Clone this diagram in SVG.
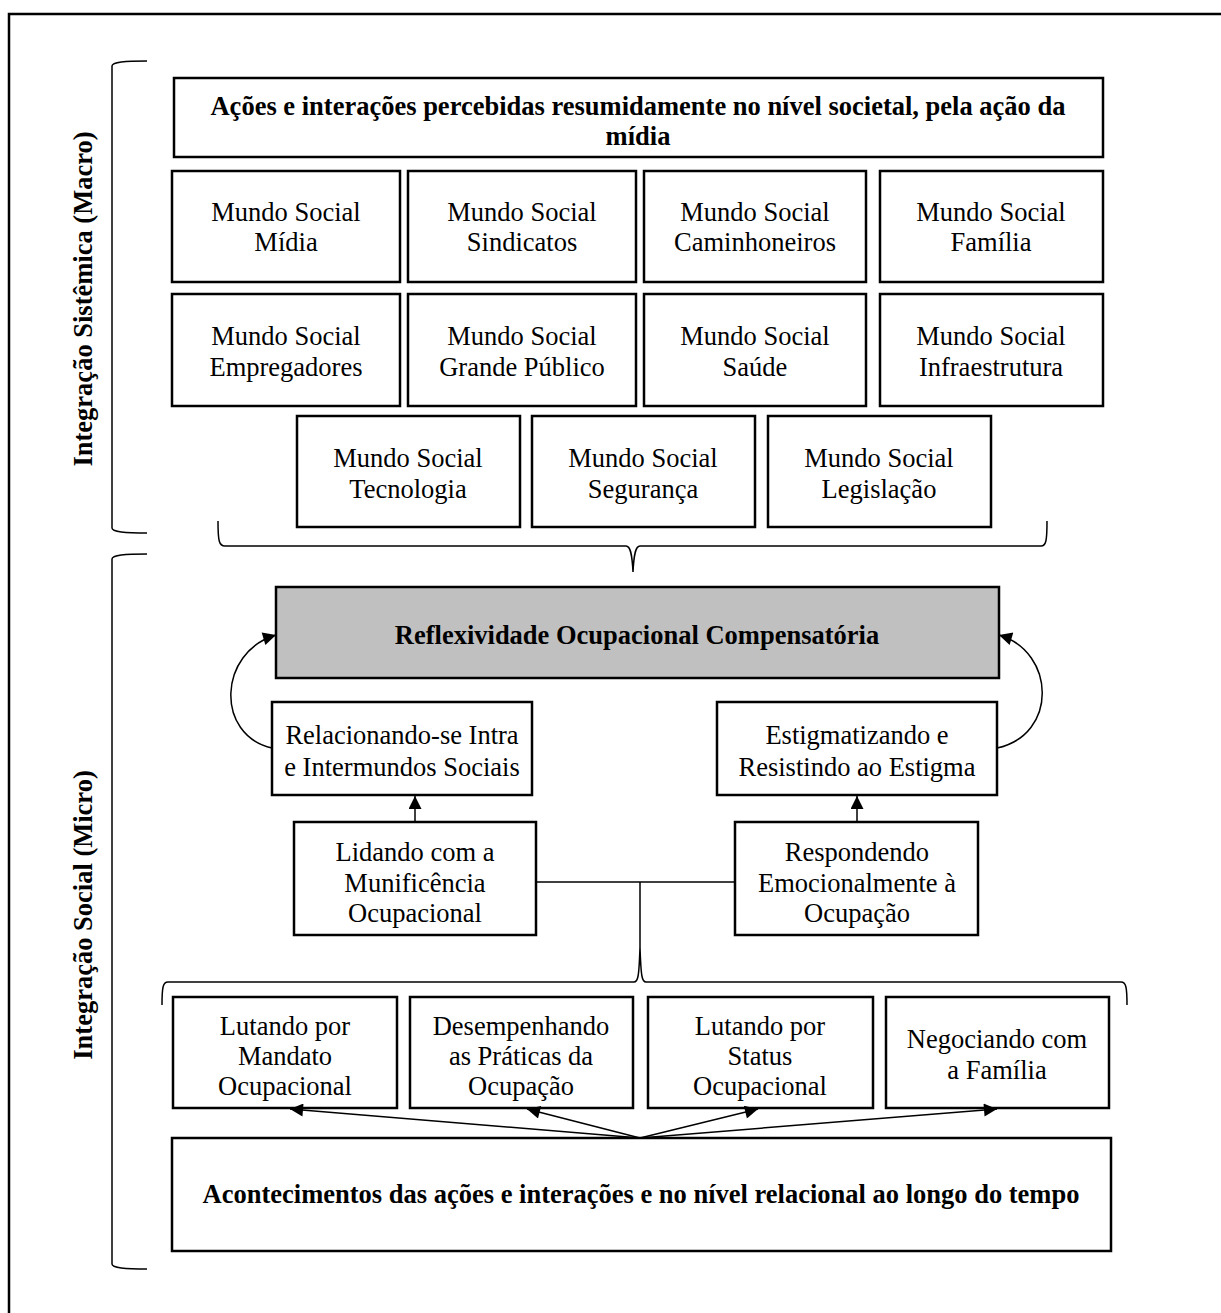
<svg xmlns="http://www.w3.org/2000/svg" width="1221" height="1313" viewBox="0 0 1221 1313">
<style>
.box{fill:#fff;stroke:#000;stroke-width:2.5}
.grey{fill:#c0c0c0;stroke:#000;stroke-width:2.5}
.t{font-family:"Liberation Serif","Times New Roman",serif;font-size:26.5px;text-anchor:middle;fill:#000}
.b{font-weight:bold}
.ln{fill:none;stroke:#000;stroke-width:1.5}
</style>
<defs>
<marker id="ah" viewBox="0 0 10 10" refX="10" refY="5" markerWidth="18" markerHeight="13" markerUnits="userSpaceOnUse" orient="auto">
<path d="M0,0 L10,5 L0,10 z" fill="#000"/>
</marker>
</defs>
<rect width="1221" height="1313" fill="#fff"/>
<rect x="9" y="14" width="1230" height="1320" fill="none" stroke="#000" stroke-width="2.5"/>

<g id="label-macro"><text class="t b" transform="translate(92,299) rotate(-90)">Integração Sistêmica (Macro)</text></g>
<g id="label-micro"><text class="t b" transform="translate(92,915) rotate(-90)">Integração Social (Micro)</text></g>

<g id="brackets">
<path class="ln" d="M147,61 C125,61 112,62 112,66 L112,528 C112,532 125,533 147,533"/>
<path class="ln" d="M147,554 C125,554 112,555 112,559 L112,1264 C112,1268 125,1269 147,1269"/>
<path class="ln" d="M218,521 C218,541 219,546 225,546 L626,546 C630,546 632,552 633,572 C634,552 636,546 640,546 L1041,546 C1046,546 1047,541 1047,521"/>
<path class="ln" d="M162,1005 C162,987 163,982 168,982 L634,982 C638,982 639,977 640,947 C641,977 642,982 646,982 L1121,982 C1126,982 1127,987 1127,1005"/>
</g>

<g id="top"><rect class="box" x="174" y="78" width="929" height="79"/>
<text class="t b" x="638" y="115">Ações e interações percebidas resumidamente no nível societal, pela ação da</text>
<text class="t b" x="638" y="145">mídia</text></g>

<g id="midia"><rect class="box" x="172" y="171" width="228" height="111"/><text class="t" x="286" y="221">Mundo Social</text><text class="t" x="286" y="251">Mídia</text></g>
<g id="sindicatos"><rect class="box" x="408" y="171" width="228" height="111"/><text class="t" x="522" y="221">Mundo Social</text><text class="t" x="522" y="251">Sindicatos</text></g>
<g id="caminhoneiros"><rect class="box" x="644" y="171" width="222" height="111"/><text class="t" x="755" y="221">Mundo Social</text><text class="t" x="755" y="251">Caminhoneiros</text></g>
<g id="familia"><rect class="box" x="880" y="171" width="223" height="111"/><text class="t" x="991" y="221">Mundo Social</text><text class="t" x="991" y="251">Família</text></g>

<g id="empregadores"><rect class="box" x="172" y="294" width="228" height="112"/><text class="t" x="286" y="345">Mundo Social</text><text class="t" x="286" y="376">Empregadores</text></g>
<g id="grandepublico"><rect class="box" x="408" y="294" width="228" height="112"/><text class="t" x="522" y="345">Mundo Social</text><text class="t" x="522" y="376">Grande Público</text></g>
<g id="saude"><rect class="box" x="644" y="294" width="222" height="112"/><text class="t" x="755" y="345">Mundo Social</text><text class="t" x="755" y="376">Saúde</text></g>
<g id="infraestrutura"><rect class="box" x="880" y="294" width="223" height="112"/><text class="t" x="991" y="345">Mundo Social</text><text class="t" x="991" y="376">Infraestrutura</text></g>

<g id="tecnologia"><rect class="box" x="297" y="416" width="223" height="111"/><text class="t" x="408" y="467">Mundo Social</text><text class="t" x="408" y="498">Tecnologia</text></g>
<g id="seguranca"><rect class="box" x="532" y="416" width="223" height="111"/><text class="t" x="643" y="467">Mundo Social</text><text class="t" x="643" y="498">Segurança</text></g>
<g id="legislacao"><rect class="box" x="768" y="416" width="223" height="111"/><text class="t" x="879" y="467">Mundo Social</text><text class="t" x="879" y="498">Legislação</text></g>

<g id="reflexividade"><rect class="grey" x="276" y="587" width="723" height="91"/><text class="t b" x="637" y="644">Reflexividade Ocupacional Compensatória</text></g>

<g id="relacionando"><rect class="box" x="272" y="702" width="260" height="93"/><text class="t" x="402" y="744">Relacionando-se Intra</text><text class="t" x="402" y="776">e Intermundos Sociais</text></g>
<g id="estigmatizando"><rect class="box" x="717" y="702" width="280" height="93"/><text class="t" x="857" y="744">Estigmatizando e</text><text class="t" x="857" y="776">Resistindo ao Estigma</text></g>

<g id="lidando"><rect class="box" x="294" y="822" width="242" height="113"/><text class="t" x="415" y="861">Lidando com a</text><text class="t" x="415" y="892">Munificência</text><text class="t" x="415" y="922">Ocupacional</text></g>
<g id="respondendo"><rect class="box" x="735" y="822" width="243" height="113"/><text class="t" x="857" y="861">Respondendo</text><text class="t" x="857" y="892">Emocionalmente à</text><text class="t" x="857" y="922">Ocupação</text></g>

<g id="mandato"><rect class="box" x="173" y="997" width="224" height="111"/><text class="t" x="285" y="1035">Lutando por</text><text class="t" x="285" y="1065">Mandato</text><text class="t" x="285" y="1095">Ocupacional</text></g>
<g id="praticas"><rect class="box" x="410" y="997" width="223" height="111"/><text class="t" x="521" y="1035">Desempenhando</text><text class="t" x="521" y="1065">as Práticas da</text><text class="t" x="521" y="1095">Ocupação</text></g>
<g id="status"><rect class="box" x="648" y="997" width="225" height="111"/><text class="t" x="760" y="1035">Lutando por</text><text class="t" x="760" y="1065">Status</text><text class="t" x="760" y="1095">Ocupacional</text></g>
<g id="negociando"><rect class="box" x="886" y="997" width="223" height="111"/><text class="t" x="997" y="1048">Negociando com</text><text class="t" x="997" y="1079">a Família</text></g>

<g id="acontecimentos"><rect class="box" x="172" y="1138" width="939" height="113"/><text class="t b" x="641" y="1203">Acontecimentos das ações e interações e no nível relacional ao longo do tempo</text></g>

<g id="connectors">
<path class="ln" d="M272,748 C215,735 218,652 276,635" marker-end="url(#ah)"/>
<path class="ln" d="M997,748 C1058,735 1056,652 999,635" marker-end="url(#ah)"/>
<line class="ln" x1="415" y1="822" x2="415" y2="796" marker-end="url(#ah)"/>
<line class="ln" x1="857" y1="822" x2="857" y2="796" marker-end="url(#ah)"/>
<path class="ln" d="M536,882 L735,882 M640,882 L640,947"/>
<line class="ln" x1="640" y1="1138" x2="290" y2="1109" marker-end="url(#ah)"/>
<line class="ln" x1="640" y1="1138" x2="527" y2="1109" marker-end="url(#ah)"/>
<line class="ln" x1="640" y1="1138" x2="758" y2="1109" marker-end="url(#ah)"/>
<line class="ln" x1="640" y1="1138" x2="997" y2="1109" marker-end="url(#ah)"/>
</g>
</svg>
